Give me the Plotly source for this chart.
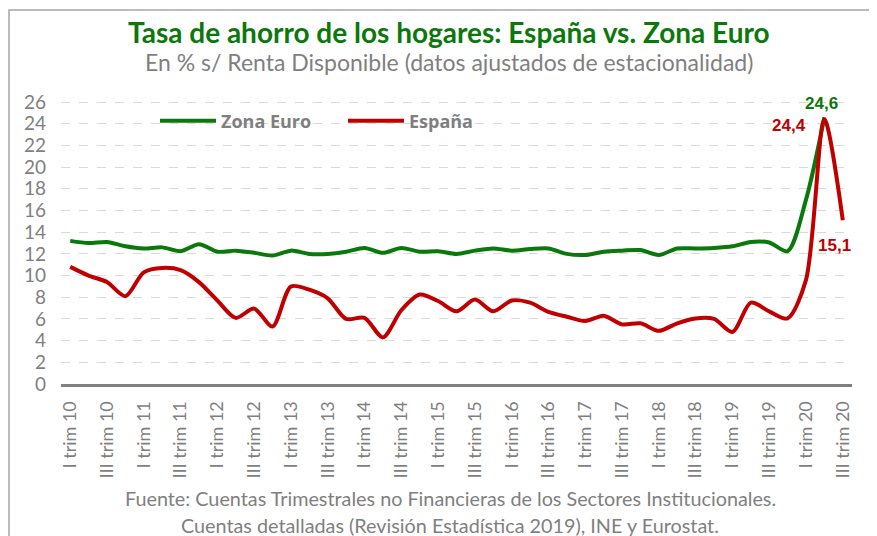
import plotly.graph_objects as go

# Quarterly categories: I trim 10 ... III trim 20
roman = ["I", "II", "III", "IV"]
quarters = []
for yy in range(10, 21):
    for q in range(4):
        if yy == 20 and q > 2:
            break
        quarters.append(f"{roman[q]} trim {yy}")

zona_euro = [13.2, 13.0, 13.1, 12.7, 12.5, 12.6, 12.25, 12.9, 12.2, 12.3,
             12.1, 11.85, 12.3, 12.0, 12.0, 12.2, 12.55, 12.1, 12.55, 12.2,
             12.25, 12.0, 12.3, 12.5, 12.3, 12.45, 12.5, 12.0, 11.9, 12.2,
             12.3, 12.35, 11.9, 12.5, 12.5, 12.55, 12.7, 13.1, 13.05, 12.25,
             17.0, 24.6, None]
espana = [10.8, 10.0, 9.4, 8.1, 10.3, 10.7, 10.5, 9.4, 7.7, 6.1,
          6.95, 5.3, 9.0, 8.7, 7.9, 6.0, 6.1, 4.3, 6.8, 8.25,
          7.65, 6.7, 7.8, 6.7, 7.7, 7.5, 6.65, 6.2, 5.8, 6.3,
          5.5, 5.6, 4.9, 5.6, 6.05, 6.0, 4.8, 7.5, 6.7, 6.05,
          9.6, 24.4, 15.1]

y_ticks = list(range(0, 27, 2))
x_idx = list(range(len(quarters)))
tick_idx = x_idx[::2]
tick_text = [quarters[i] for i in tick_idx]

GREEN = "#0b780b"
RED = "#c00000"
GRAY = "#7f7f7f"

# page body has an 8px margin: the figure is drawn 8px smaller / offset
W, H = 869, 528
ML, MR, MT, MB = 53, 25, 93, 152
PW = W - ML - MR
PH = H - MT - MB


def px(xr):  # reference x pixel -> paper
    return (xr - 8 - ML) / PW


def py(yr):  # reference y pixel -> paper
    return (H - MB - (yr - 8)) / PH


fig = go.Figure()
fig.add_trace(go.Scatter(x=x_idx, y=zona_euro, name="Zona Euro", mode="lines",
                         line=dict(color=GREEN, width=4, shape="spline", smoothing=0.8),
                         connectgaps=False))
fig.add_trace(go.Scatter(x=x_idx, y=espana, name="España", mode="lines",
                         line=dict(color=RED, width=4, shape="spline", smoothing=0.8)))

fig.update_layout(
    width=W, height=H,
    margin=dict(l=ML, r=MR, t=MT, b=MB),
    paper_bgcolor="white", plot_bgcolor="white",
    showlegend=True,
    legend=dict(orientation="h", x=px(155), y=py(121), xanchor="left", yanchor="middle",
                font=dict(family="Open Sans", size=18, color=GRAY, weight="bold"),
                itemwidth=56, bgcolor="rgba(0,0,0,0)",
                entrywidth=117),
    xaxis=dict(range=[-0.5, 42.5], tickmode="array", tickvals=tick_idx, ticktext=tick_text,
               tickangle=-90, showgrid=False, zeroline=False,
               showline=True, linecolor="#808080", linewidth=3,
               ticks="", ticklabelstandoff=7,
               tickfont=dict(family="Lato", size=18, color=GRAY)),
    yaxis=dict(range=[0, 26.1], tickmode="array", tickvals=y_ticks,
               showgrid=True, gridcolor="#d9d9d9", griddash="dash", gridwidth=1,
               zeroline=False, showline=False, ticks="", ticklabelstandoff=14,
               tickfont=dict(family="Lato", size=19, color=GRAY)),
    shapes=[dict(type="rect", xref="paper", yref="paper",
                 x0=px(9), x1=1.2, y0=-0.7, y1=py(10),
                 line=dict(color="#a6a6a6", width=1.5), layer="below")],
)

annotations = [
    dict(text="<b>Tasa de ahorro de los hogares: España vs. Zona Euro</b>",
         xref="paper", yref="paper", x=px(449), y=py(31.5), showarrow=False,
         xanchor="center", yanchor="middle",
         font=dict(family="Lato", size=28, color=GREEN)),
    dict(text="En % s/ Renta Disponible (datos ajustados de estacionalidad)",
         xref="paper", yref="paper", x=px(449), y=py(62.5), showarrow=False,
         xanchor="center", yanchor="middle",
         font=dict(family="Lato", size=23, color=GRAY)),
    dict(text="Fuente: Cuentas Trimestrales no Financieras de los Sectores Institucionales.",
         xref="paper", yref="paper", x=px(450), y=py(498), showarrow=False,
         xanchor="center", yanchor="middle",
         font=dict(family="Lato", size=19.8, color=GRAY)),
    dict(text="Cuentas detalladas (Revisión Estadística 2019), INE y Eurostat.",
         xref="paper", yref="paper", x=px(450), y=py(525), showarrow=False,
         xanchor="center", yanchor="middle",
         font=dict(family="Lato", size=19.8, color=GRAY)),
    # data labels
    dict(text="<b>24,6</b>", x=41, y=zona_euro[41], xref="x", yref="y", showarrow=False,
         xanchor="center", yanchor="bottom", xshift=-3, yshift=2,
         font=dict(family="Liberation Sans", size=17, color=GREEN)),
    dict(text="<b>24,4</b>", x=41, y=espana[41], xref="x", yref="y", showarrow=False,
         xanchor="right", yanchor="middle", xshift=-16, yshift=-6,
         font=dict(family="Liberation Sans", size=17, color=RED)),
    dict(text="<b>15,1</b>", x=42, y=espana[42], xref="x", yref="y", showarrow=False,
         xanchor="center", yanchor="top", xshift=-8, yshift=-14,
         font=dict(family="Liberation Sans", size=17, color=RED)),
]
fig.update_layout(annotations=annotations)

fig.write_html("out.html")
